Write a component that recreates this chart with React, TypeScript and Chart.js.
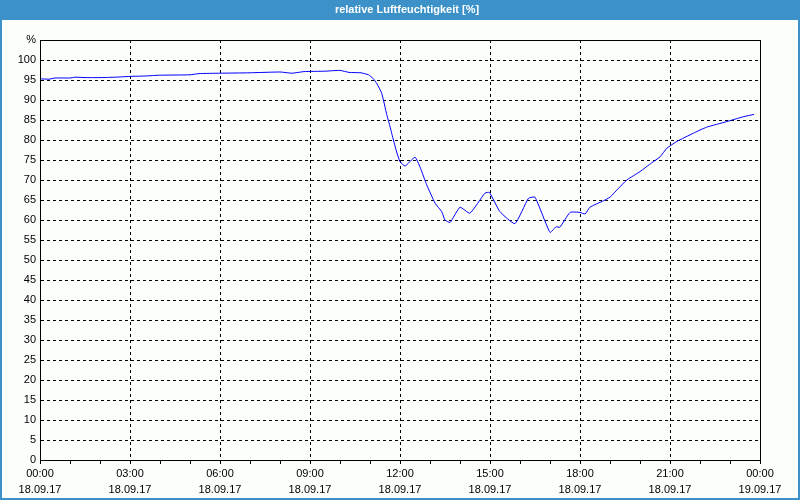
import React, { useEffect, useRef } from "react";
import { Chart, registerables } from "chart.js";

Chart.register(...registerables);

const TITLE = "relative Luftfeuchtigkeit [%]";

// time in hours since 18.09.17 00:00
const hours = [
  0, 0.3, 0.5, 1.0, 1.17, 1.5, 2.0, 2.5, 3.0, 3.5, 4.0, 5.0, 5.3, 6.0, 7.0, 8.0,
  8.4, 8.8, 9.5, 10.0, 10.3, 10.7, 10.95, 11.1, 11.22, 11.39, 11.56, 11.67, 11.78,
  11.89, 12.0, 12.17, 12.5, 12.67, 12.89, 13.17, 13.39, 13.5, 13.67, 14.0, 14.33,
  14.83, 14.98, 15.33, 15.83, 16.28, 16.5, 17.0, 17.2, 17.33, 17.67, 18.0, 18.17,
  18.33, 18.78, 19.0, 19.28, 19.56, 20.0, 20.39, 20.67, 20.89, 21.22, 21.78, 22.22,
  22.89, 23.44, 23.8,
];

const humidity = [
  95.3, 95.2, 95.5, 95.5, 95.7, 95.6, 95.6, 95.7, 95.9, 96.0, 96.2, 96.3, 96.6,
  96.7, 96.8, 97.0, 96.7, 97.1, 97.2, 97.4, 96.9, 96.8, 96.3, 95.4, 94.2, 91.7,
  86.3, 83.3, 80.0, 77.0, 74.6, 73.5, 75.7, 73.2, 68.8, 64.2, 62.1, 60.0, 59.4,
  63.2, 61.7, 66.7, 66.9, 62.1, 59.1, 65.4, 65.7, 56.9, 58.3, 58.2, 61.9, 61.9,
  61.5, 63.2, 64.8, 65.7, 67.9, 70.0, 72.1, 74.3, 75.8, 77.9, 79.6, 81.7, 83.2,
  84.6, 85.8, 86.4,
];

const timeLabels = ["00:00", "03:00", "06:00", "09:00", "12:00", "15:00", "18:00", "21:00", "00:00"];
const dateLabels = ["18.09.17", "18.09.17", "18.09.17", "18.09.17", "18.09.17", "18.09.17", "18.09.17", "18.09.17", "19.09.17"];

const FONT = "'Liberation Sans', 'DejaVu Sans', sans-serif";

const framePlugin = {
  id: "frame",
  beforeDraw(chart: any) {
    const { ctx, width, height } = chart;
    ctx.save();
    ctx.fillStyle = "#fcfefc";
    ctx.fillRect(0, 0, width, height);
    ctx.fillStyle = "#3c92c8";
    ctx.fillRect(0, 0, width, 20);
    ctx.fillRect(0, 0, 2, height);
    ctx.fillRect(width - 2, 0, 2, height);
    ctx.fillRect(0, height - 2, width, 2);
    ctx.fillStyle = "#ffffff";
    ctx.font = `bold 11px ${FONT}`;
    ctx.textAlign = "center";
    ctx.textBaseline = "middle";
    ctx.fillText(TITLE, 407, 10);
    ctx.restore();
  },
  afterDraw(chart: any) {
    const { ctx, chartArea } = chart;
    ctx.save();
    ctx.strokeStyle = "#000";
    ctx.lineWidth = 1;
    ctx.setLineDash([]);
    const l = Math.round(chartArea.left) + 0.5;
    const t = Math.round(chartArea.top) + 0.5;
    const r = Math.round(chartArea.right) + 0.5;
    const b = Math.round(chartArea.bottom) + 0.5;
    ctx.strokeRect(l, t, r - l, b - t);
    ctx.restore();
  },
};

export default function App() {
  const ref = useRef<HTMLCanvasElement>(null);

  useEffect(() => {
    document.body.style.margin = "0";
    const canvas = ref.current;
    if (!canvas) return;
    const chart = new Chart(canvas, {
      type: "line",
      data: {
        datasets: [
          {
            label: TITLE,
            data: hours.map((h, i) => ({ x: h, y: humidity[i] })),
            borderColor: "#0000ff",
            borderWidth: 1,
            pointRadius: 0,
            tension: 0.15,
            fill: false,
          },
        ],
      },
      options: {
        responsive: false,
        animation: false,
        layout: { padding: { left: 8, right: 40, top: 40, bottom: 2 } },
        plugins: {
          legend: { display: false },
          tooltip: { enabled: false },
          title: { display: false },
        },
        scales: {
          x: {
            type: "linear",
            min: 0,
            max: 24,
            afterFit: (s: any) => {
              s.height = 38;
            },
            ticks: {
              stepSize: 1,
              autoSkip: false,
              maxRotation: 0,
              minRotation: 0,
              color: "#000",
              padding: 2,
              font: { family: FONT, size: 11, lineHeight: "16px" as any },
              callback: (v: any) => {
                const n = Number(v);
                if (n % 3 !== 0) return "";
                const i = n / 3;
                return [timeLabels[i], dateLabels[i]];
              },
            },
            grid: {
              color: (c: any) =>
                c.tick && c.tick.value % 3 === 0 ? "#000" : "rgba(0,0,0,0)",
              tickColor: "#000",
              tickLength: 4,
              tickBorderDash: [],
              lineWidth: 1,
            },
            border: { display: true, color: "#000", dash: [3, 3] },
          },
          y: {
            min: 0,
            max: 105,
            afterFit: (s: any) => {
              s.width = 32;
            },
            ticks: {
              stepSize: 5,
              autoSkip: false,
              color: "#000",
              padding: 4,
              font: { family: FONT, size: 11 },
              callback: (v: any) => (Number(v) === 105 ? "%" : String(v)),
            },
            grid: {
              color: "#000",
              drawTicks: false,
              lineWidth: 1,
            },
            border: { display: true, color: "#000", dash: [3, 3] },
          },
        },
      },
      plugins: [framePlugin],
    });
    return () => chart.destroy();
  }, []);

  return (
    <div style={{ width: 800, height: 500 }}>
      <canvas ref={ref} width={800} height={500} style={{ display: "block" }} />
    </div>
  );
}
